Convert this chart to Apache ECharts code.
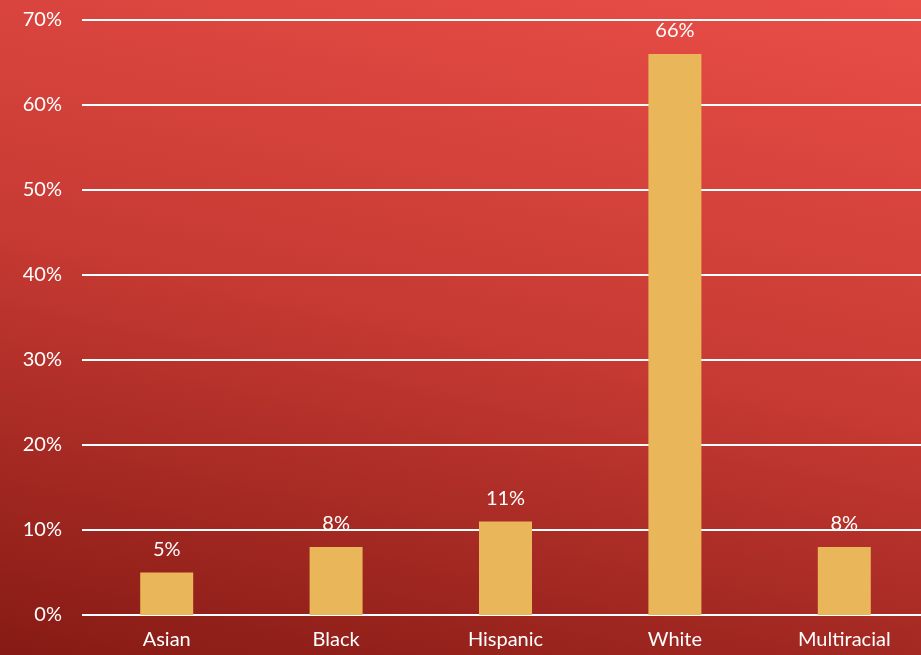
<!DOCTYPE html>
<html>
<head>
<meta charset="utf-8">
<script src="https://cdn.jsdelivr.net/npm/echarts@6/dist/echarts.min.js"></script>
<style>
  html, body { margin: 0; padding: 0; }
  #frame {
    width: 921px; height: 655px; overflow: hidden;
    background: linear-gradient(12deg, #861a14 0%, #c63a33 50%, #e94e47 100%);
  }
  /* the plot runs slightly past the right edge of the frame */
  #chart { width: 930px; height: 655px; }
</style>
</head>
<body>
<div id="frame"><div id="chart"></div></div>
<script>
// Share of enrolment by race/ethnicity
const categories = ['Asian', 'Black', 'Hispanic', 'White', 'Multiracial'];
const shares = [5, 8, 11, 66, 8];
const yTicks = { min: 0, max: 70, interval: 10 };

const font = 'Lato, "Open Sans", sans-serif';
const chart = echarts.init(document.getElementById('chart'));
chart.setOption({
  backgroundColor: 'transparent',
  animation: false,
  grid: { left: 82, top: 20, width: 847, bottom: 40, containLabel: false },
  xAxis: {
    type: 'category',
    data: categories,
    axisLine: { show: false },
    axisTick: { show: false },
    axisLabel: { color: '#fff', fontSize: 20, fontFamily: font, margin: 15 }
  },
  yAxis: {
    type: 'value',
    min: yTicks.min, max: yTicks.max, interval: yTicks.interval,
    axisLine: { show: false },
    axisTick: { show: false },
    axisLabel: { color: '#fff', fontSize: 20, fontFamily: font, margin: 20, formatter: '{value}%' },
    splitLine: { lineStyle: { color: '#fff', width: 2 } }
  },
  series: [{
    type: 'bar',
    data: shares,
    barWidth: 53,
    itemStyle: { color: '#e9b65a' },
    label: {
      show: true, position: 'top', distance: 13,
      color: '#fff', fontSize: 20, fontFamily: font,
      formatter: p => p.value + '%'
    }
  }]
});
</script>
</body>
</html>
